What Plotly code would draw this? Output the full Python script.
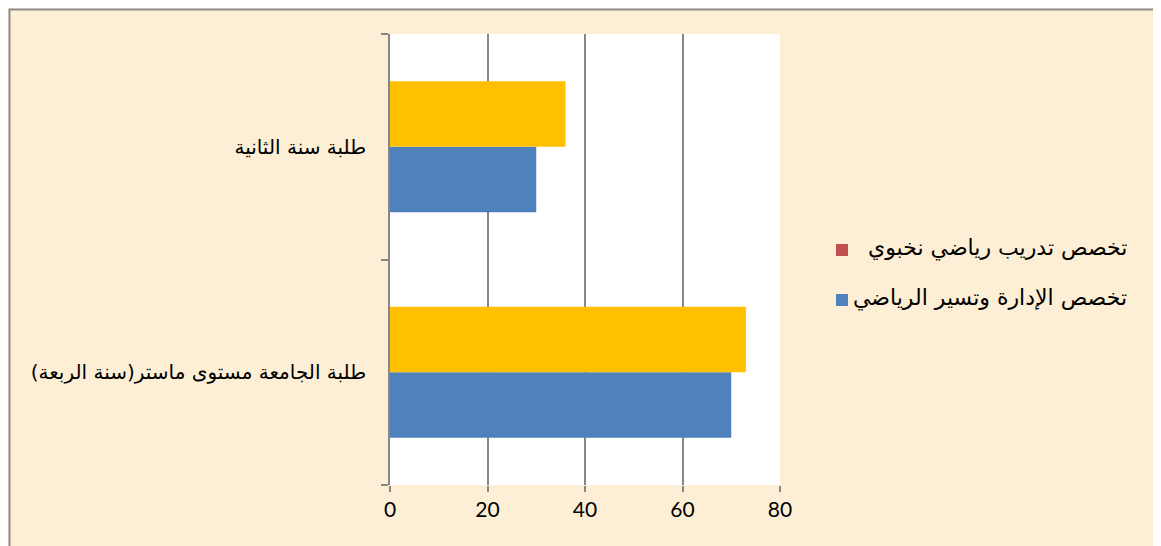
import plotly.graph_objects as go

categories = ["طلبة الجامعة مستوى ماستر(سنة الربعة)", "طلبة سنة الثانية"]
series_names = ["تخصص الإدارة وتسير الرياضي", "تخصص تدريب رياضي نخبوي"]
admin_values = [70, 30]
training_values = [73, 36]
bar_colors = ["#4F81BD", "#FFC000"]
legend_colors = ["#4F81BD", "#C0504D"]
x_ticks = [0, 20, 40, 60, 80]

fig = go.Figure()
fig.add_trace(go.Bar(y=categories, x=admin_values, orientation="h",
                     name=series_names[0], marker=dict(color=bar_colors[0], line=dict(width=0)),
                     showlegend=False))
fig.add_trace(go.Bar(y=categories, x=training_values, orientation="h",
                     name=series_names[1], marker=dict(color=bar_colors[1], line=dict(width=0)),
                     showlegend=False))

# page offset of the figure (browser body margin)
OFF = 8
W, H = 1161 - OFF, 546 - OFF
L, T = 390 - OFF, 34 - OFF
R = W - (780 - OFF)
B = H - (485 - OFF)
pw, ph = W - L - R, H - T - B

def px(x):
    return (x - OFF - L) / pw

def py(y):
    return (H - B - (y - OFF)) / ph

shapes = [
    dict(type="rect", xref="paper", yref="paper", x0=px(9.5), x1=px(1158), y0=py(560), y1=py(9.5),
         line=dict(color="#8C8C8C", width=2), fillcolor="rgba(0,0,0,0)", layer="above"),
]
annotations = []
legend_rows = [(series_names[1], legend_colors[1], 250), (series_names[0], legend_colors[0], 300)]
for text, col, yc in legend_rows:
    shapes.append(dict(type="rect", xref="paper", yref="paper",
                       x0=px(836), x1=px(848), y0=py(yc + 6), y1=py(yc - 6),
                       fillcolor=col, line=dict(width=0)))
    annotations.append(dict(text=text, xref="paper", yref="paper", x=px(1129), y=py(yc - 2),
                            xanchor="right", yanchor="middle", showarrow=False,
                            font=dict(family="DejaVu Sans, Liberation Sans", size=22, color="#000000")))

fig.update_layout(
    width=W, height=H,
    margin=dict(l=L, r=R, t=T, b=B, autoexpand=False),
    paper_bgcolor="#FCEFD5",
    plot_bgcolor="#FFFFFF",
    barmode="group",
    bargap=0.42,
    bargroupgap=0,
    shapes=shapes,
    annotations=annotations,
    showlegend=False,
    xaxis=dict(range=[0, 80], tickvals=x_ticks, ticktext=[str(v) for v in x_ticks],
               showgrid=True, gridcolor="#868686", gridwidth=1.8,
               ticks="outside", ticklen=6, tickcolor="#868686", tickwidth=1.8,
               showline=False, zeroline=False,
               tickfont=dict(family="Lato, Open Sans", size=21, color="#000000"),
               fixedrange=True),
    yaxis=dict(type="category", tickson="boundaries", ticks="outside", ticklen=7,
               tickcolor="#868686", tickwidth=1.8, showline=True, linecolor="#868686",
               linewidth=1.8, showgrid=False, zeroline=False,
               ticklabelstandoff=18,
               tickfont=dict(family="DejaVu Sans, Liberation Sans", size=20, color="#000000"),
               fixedrange=True),
)

fig.write_html("out.html")
